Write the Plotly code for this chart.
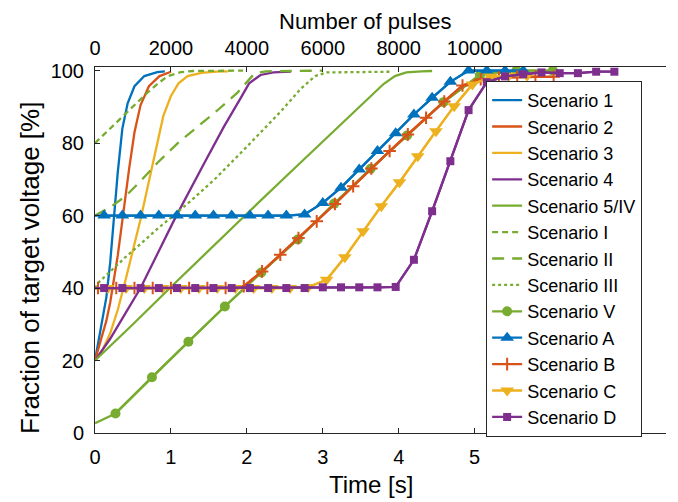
import plotly.graph_objects as go

# ---------------- data ----------------
# smooth curves (time [s], fraction [%])
s1_t = [0, 0.05, 0.10, 0.15, 0.20, 0.25, 0.30, 0.36, 0.43, 0.52, 0.65, 0.82, 0.92]
s1_v = [20, 25.5, 31, 37.5, 47, 60.5, 72, 84, 91, 95.7, 98.5, 99.6, 99.8]

s2_t = [0, 0.05, 0.10, 0.15, 0.20, 0.25, 0.30, 0.35, 0.40, 0.45, 0.52, 0.60, 0.71, 0.85, 1.00]
s2_v = [20, 23.5, 27, 31, 36, 42, 49, 57, 65.5, 73, 83, 90.5, 95.7, 98.5, 99.7]

s3_t = [0, 0.10, 0.20, 0.30, 0.40, 0.50, 0.60, 0.70, 0.80, 0.90, 1.00, 1.10, 1.22, 1.40, 1.60, 1.75]
s3_v = [20, 23, 27.5, 34, 42, 50.5, 59, 68.5, 78, 87.5, 93, 96.5, 98.5, 99.4, 99.7, 99.8]

s4_t = [0, 0.20, 0.40, 0.60, 0.80, 1.06, 1.44, 1.70, 1.92, 2.03, 2.18, 2.35, 2.58]
s4_v = [20, 26, 33, 40, 48.5, 59.5, 74.5, 84.6, 92.5, 96.5, 98.8, 99.5, 99.7]

s5_t = [0, 0.5, 1.0, 1.5, 2.0, 2.5, 3.0, 3.4, 3.63, 3.8, 3.95, 4.1, 4.3, 4.44]
s5_v = [20, 30, 40.3, 50.5, 60.5, 70.5, 80.5, 88.5, 93, 96.3, 98.5, 99.5, 99.8, 99.9]

sI_t = [0, 0.25, 0.39, 0.55, 0.69, 0.82, 0.96, 1.13, 1.30, 1.95]
sI_v = [80, 85, 88, 91, 93.9, 96.3, 98.5, 99.6, 99.9, 100]

sII_t = [0, 0.20, 0.40, 0.60, 0.82, 1.09, 1.35, 1.61, 1.88, 2.00, 2.10, 2.25, 3.00]
sII_v = [60, 62.3, 65.3, 69.5, 74.5, 80, 84.5, 89, 94, 97, 99.2, 99.8, 100]

sIII_t = [0, 0.04, 0.39, 0.82, 1.26, 1.60, 2.00, 2.45, 2.71, 2.90, 3.05, 3.90]
sIII_v = [40, 41.4, 48.3, 56.3, 64, 70.5, 79, 88.8, 95, 98.5, 99.5, 99.7]

# marker series (start value at t = 0, then sampled points)
sV_t0, sV_v0 = 0, 2.7
sV_t = [0.27, 0.75, 1.23, 1.71, 2.19, 2.67, 3.15, 3.63, 4.11, 4.59, 5.07, 5.55, 6.03]
sV_v = [5.4, 15.4, 25.2, 34.9, 44.3, 53.4, 63.3, 72.9, 82.1, 91.3, 98.8, 100, 100]

sA_t0, sA_v0 = 0, 60
sA_t = [0.12, 0.36, 0.60, 0.84, 1.08, 1.32, 1.56, 1.80, 2.04, 2.28, 2.52, 2.76,
        3.00, 3.24, 3.48, 3.72, 3.96, 4.20, 4.44, 4.68, 4.92, 5.16, 5.40, 5.64]
sA_v = [60, 60, 60, 60, 60, 60, 60, 60, 60, 60, 60, 60.3,
        63.5, 67.7, 72.7, 77.8, 82.7, 87.9, 92.5, 96.9, 100, 100, 100, 100]

sB_t0, sB_v0 = 0, 40
sB_t = [0.04, 0.28, 0.52, 0.76, 1.00, 1.24, 1.48, 1.72, 1.96, 2.20, 2.44, 2.68, 2.92,
        3.16, 3.40, 3.64, 3.88, 4.12, 4.36, 4.60, 4.84, 5.08, 5.32, 5.56, 5.80, 6.04]
sB_v = [40, 40, 40, 40, 40, 40, 40, 40, 40.5, 44.6, 49.2, 53.8, 58.4,
        63.2, 68.1, 73, 77.8, 82.4, 87, 91.5, 95.9, 97.6, 98.1, 98.3, 98.3, 98.3]

sC_t0, sC_v0 = 0, 40
sC_t = [0.17, 0.41, 0.65, 0.89, 1.13, 1.37, 1.61, 1.85, 2.09, 2.33, 2.57, 2.81,
        3.05, 3.29, 3.53, 3.77, 4.01, 4.25, 4.49, 4.73, 4.97, 5.21, 5.45, 5.69]
sC_v = [40, 40, 40, 40, 40, 40, 40, 40, 40, 40, 40, 40.3,
        42.3, 48.5, 55.7, 62.6, 69.2, 76.4, 83.3, 90.2, 96.2, 98.3, 98.6, 98.6]

sD_t0, sD_v0 = 0, 40
sD_t = [0.12, 0.36, 0.60, 0.84, 1.08, 1.32, 1.56, 1.80, 2.04, 2.28, 2.52, 2.76, 3.00,
        3.24, 3.48, 3.72, 3.96, 4.20, 4.44, 4.68, 4.92, 5.16, 5.40, 5.64, 5.88, 6.12,
        6.36, 6.60, 6.84]
sD_v = [40, 40, 40, 40, 40, 40, 40, 40, 40, 40, 40, 40, 40.2,
        40.2, 40.2, 40.2, 40.3, 47.8, 61.2, 75, 89.1, 96.8, 98.4, 99.0, 99.5, 99.3,
        99.3, 99.7, 99.7]

x_ticks = [0, 1, 2, 3, 4, 5]
y_ticks = [0, 20, 40, 60, 80, 100]
pulse_ticks = [0, 2000, 4000, 6000, 8000, 10000]
pulses_per_s = 2000
t_max = 7.52
y_max = 101

x_title = "Time [s]"
x2_title = "Number of pulses"
y_title = "Fraction of target voltage [%]"

BLUE = "#0072BD"
ORANGE = "#D95319"
YELLOW = "#EDB120"
PURPLE = "#7E2F8E"
GREEN = "#77AC30"
LW = 2.3

fig = go.Figure()

def line(name, t, v, color, dash="solid"):
    fig.add_trace(go.Scatter(x=t, y=v, mode="lines", name=name,
                             line=dict(color=color, width=LW, dash=dash)))

line("Scenario 1", s1_t, s1_v, BLUE)
line("Scenario 2", s2_t, s2_v, ORANGE)
line("Scenario 3", s3_t, s3_v, YELLOW)
line("Scenario 4", s4_t, s4_v, PURPLE)
line("Scenario 5/IV", s5_t, s5_v, GREEN)
line("Scenario I", sI_t, sI_v, GREEN, "6px,4px")
line("Scenario II", sII_t, sII_v, GREEN, "12px,8px")
line("Scenario III", sIII_t, sIII_v, GREEN, "dot")

def marked(name, t0, v0, t, v, color, symbol, size, mline=0):
    # full line from t = 0
    fig.add_trace(go.Scatter(x=[t0] + t, y=[v0] + v, mode="lines", showlegend=False,
                             hoverinfo="skip", line=dict(color=color, width=LW)))
    fig.add_trace(go.Scatter(x=t, y=v, mode="lines+markers", name=name,
                             line=dict(color=color, width=LW),
                             marker=dict(color=color, symbol=symbol, size=size,
                                         line=dict(color=color, width=mline))))

marked("Scenario V", sV_t0, sV_v0, sV_t, sV_v, GREEN, "circle", 10)
marked("Scenario A", sA_t0, sA_v0, sA_t, sA_v, BLUE, "triangle-up", 12)
marked("Scenario B", sB_t0, sB_v0, sB_t, sB_v, ORANGE, "cross-thin", 9, 2)
marked("Scenario C", sC_t0, sC_v0, sC_t, sC_v, YELLOW, "triangle-down", 12)
marked("Scenario D", sD_t0, sD_v0, sD_t, sD_v, PURPLE, "square", 8)

# empty trace that registers the top (pulses) axis
fig.add_trace(go.Scatter(x=[], y=[], xaxis="x2", yaxis="y", showlegend=False,
                         hoverinfo="skip"))

AX = "#262626"
FONT = "Liberation Sans, Arial, sans-serif"

# the page body adds an 8 px offset; the figure is sized to fill the rest
fig.update_layout(
    width=670, height=494,
    margin=dict(l=87, r=12, t=59, b=69, autoexpand=False),
    paper_bgcolor="white", plot_bgcolor="white",
    font=dict(family=FONT, size=20, color="black"),
    showlegend=True,
    legend=dict(x=0.685, y=0.962, xanchor="left", yanchor="top",
                bgcolor="white", bordercolor=AX, borderwidth=1,
                font=dict(size=18), itemwidth=30, tracegroupgap=0),
    xaxis=dict(range=[0, t_max], tickvals=x_ticks, ticks="inside", ticklen=5,
               tickcolor=AX, showline=True, linecolor=AX, linewidth=1,
               showgrid=False, zeroline=False, ticklabelstandoff=6, automargin=False),
    xaxis2=dict(range=[0, t_max * pulses_per_s], tickvals=pulse_ticks, tickformat="d",
                overlaying="x", side="top", anchor="y", ticks="inside", ticklen=5,
                tickcolor=AX, showline=True, linecolor=AX, linewidth=1,
                showgrid=False, zeroline=False, ticklabelstandoff=3, automargin=False),
    yaxis=dict(range=[0, y_max], tickvals=y_ticks, ticks="inside", ticklen=5,
               tickcolor=AX, showline=True, linecolor=AX, linewidth=1,
               showgrid=False, zeroline=False, ticklabelstandoff=6, automargin=False),
    annotations=[
        dict(text=x_title, xref="paper", yref="paper", x=0.4834, y=-0.142,
             xanchor="center", yanchor="middle", showarrow=False, font=dict(size=24)),
        dict(text=x2_title, xref="paper", yref="paper", x=0.472, y=1.1245,
             xanchor="center", yanchor="middle", showarrow=False, font=dict(size=22)),
        dict(text=y_title, xref="paper", yref="paper", x=-0.1138, y=0.451,
             textangle=-90, xanchor="center", yanchor="middle", showarrow=False,
             font=dict(size=26)),
    ],
)

fig.write_html("out.html")
